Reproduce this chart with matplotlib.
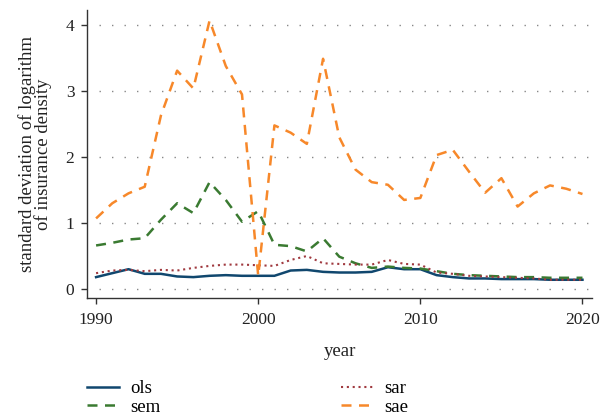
import matplotlib
matplotlib.use("Agg")
import matplotlib.pyplot as plt

years = list(range(1990, 2021))
ols = [0.18, 0.24, 0.30, 0.23, 0.23, 0.19, 0.18, 0.20, 0.21, 0.20, 0.20,
       0.20, 0.28, 0.29, 0.26, 0.25, 0.25, 0.26, 0.33, 0.30, 0.30,
       0.21, 0.18, 0.16, 0.16, 0.15, 0.15, 0.15, 0.14, 0.14, 0.14]
sem = [0.66, 0.70, 0.75, 0.77, 1.05, 1.30, 1.15, 1.62, 1.35, 1.02, 1.18,
       0.67, 0.65, 0.57, 0.77, 0.49, 0.39, 0.32, 0.34, 0.32, 0.31,
       0.27, 0.23, 0.21, 0.20, 0.19, 0.18, 0.18, 0.17, 0.17, 0.17]
sar = [0.24, 0.28, 0.29, 0.27, 0.29, 0.28, 0.32, 0.35, 0.37, 0.37, 0.36,
       0.35, 0.44, 0.50, 0.39, 0.38, 0.37, 0.37, 0.44, 0.38, 0.37,
       0.25, 0.23, 0.20, 0.19, 0.18, 0.17, 0.16, 0.14, 0.14, 0.14]
sae = [1.07, 1.30, 1.45, 1.55, 2.63, 3.31, 3.04, 4.07, 3.38, 2.95, 0.20,
       2.48, 2.37, 2.20, 3.49, 2.30, 1.81, 1.62, 1.58, 1.35, 1.38,
       2.03, 2.11, 1.78, 1.46, 1.68, 1.25, 1.45, 1.57, 1.52, 1.44]
xticks = [1990, 2000, 2010, 2020]
yticks = [0, 1, 2, 3, 4]

plt.rcParams['font.family'] = ['Liberation Serif', 'DejaVu Serif']
TXT = '#222222'

fig = plt.figure(figsize=(6.0, 4.15), dpi=100)
ax = fig.add_axes([0.145, 0.282, 0.842, 0.694])

l_ols, = ax.plot(years, ols, color='#10476e', lw=1.8, ls='-', label='ols')
l_sem, = ax.plot(years, sem, color='#3a7a31', lw=1.8, ls=(0, (4, 3)), label='sem')
l_sar, = ax.plot(years, sar, color='#a0393f', lw=1.5, ls=(0, (1, 1.8)), label='sar')
l_sae, = ax.plot(years, sae, color='#f7882a', lw=1.8, ls=(0, (4, 3)), label='sae')

ax.set_xlim(1989.44, 2020.6)
ax.set_ylim(-0.136, 4.23)
ax.set_xticks(xticks)
ax.set_yticks(yticks)
ax.hlines(yticks, 1990.2, 2020.6, colors='#888888', linestyles=(0, (1, 8)),
          lw=1.0, zorder=0)
for s in ['top', 'right']:
    ax.spines[s].set_visible(False)
for s in ['left', 'bottom']:
    ax.spines[s].set_color('#333333')
    ax.spines[s].set_linewidth(1.0)
ax.tick_params(axis='both', direction='out', length=4, width=1.0,
               color='#333333', labelsize=12.5, labelcolor=TXT)
ax.tick_params(axis='x', pad=6)
ax.tick_params(axis='y', pad=5)

ax.set_xlabel('year', fontsize=13.5, color=TXT, labelpad=11)
ax.set_ylabel('standard deviation of logarithm\nof insurance density',
              fontsize=13.5, color=TXT, linespacing=0.88)
ax.yaxis.set_label_coords(-0.069, 0.5)

legkw = dict(loc='upper left', frameon=False, fontsize=13.5,
             handlelength=1.7, labelspacing=0.07, handletextpad=0.6,
             borderaxespad=0, borderpad=0)
fig.legend([l_ols, l_sem], ['ols', 'sem'], bbox_to_anchor=(87 / 600, 0.084), **legkw)
fig.legend([l_sar, l_sae], ['sar', 'sae'], bbox_to_anchor=(341 / 600, 0.084), **legkw)

fig.savefig('out.png', dpi=100)
